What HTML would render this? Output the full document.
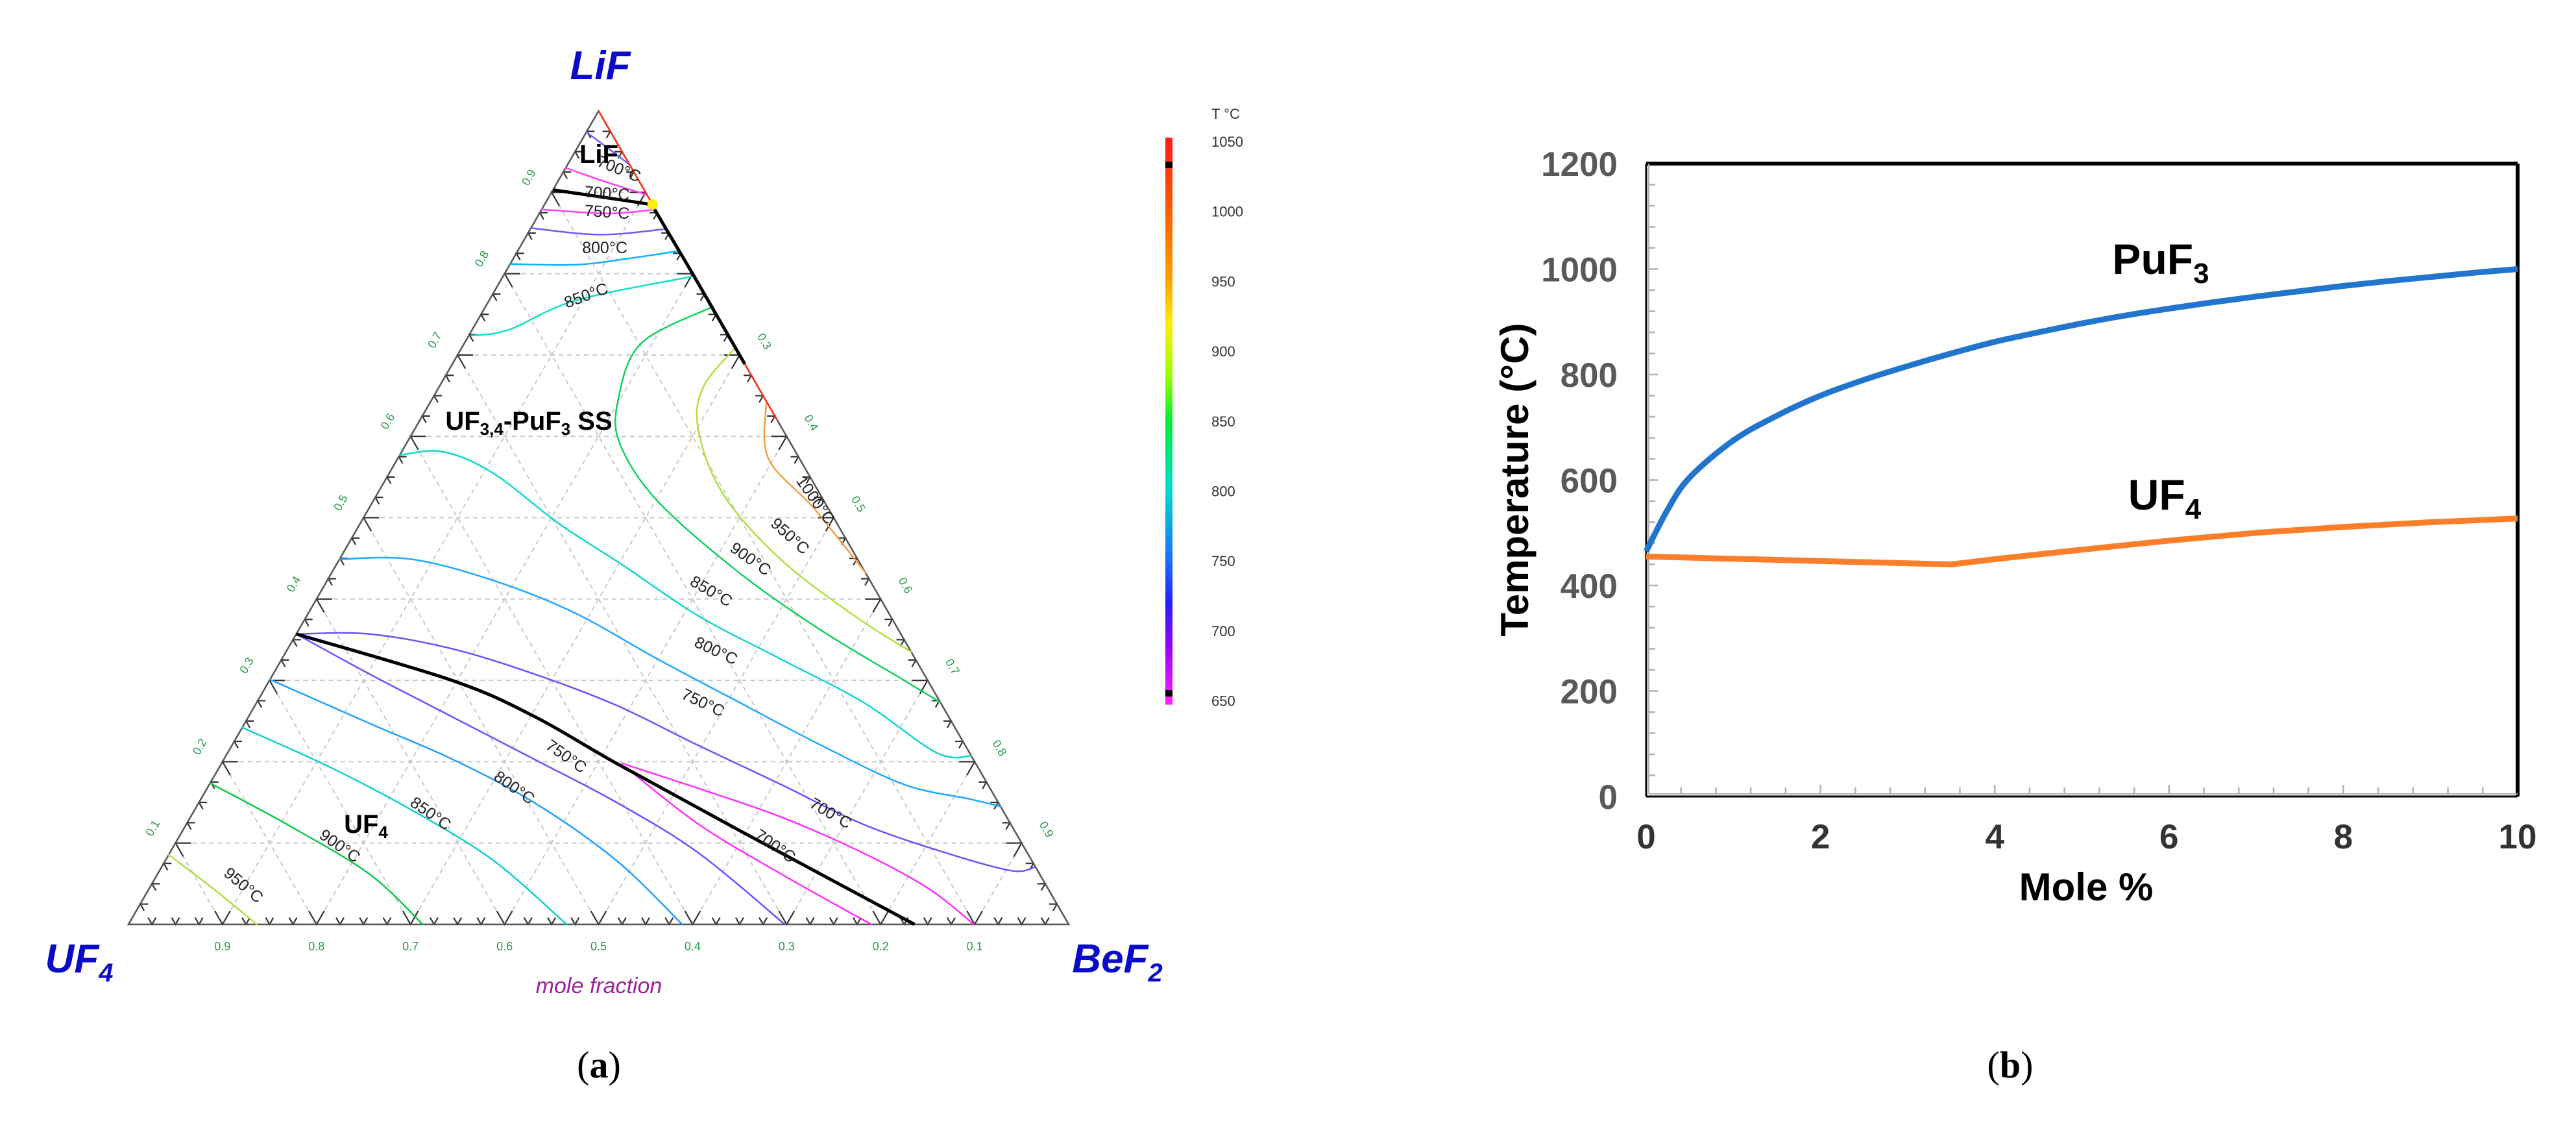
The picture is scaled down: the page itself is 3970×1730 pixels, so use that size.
<!DOCTYPE html>
<html><head><meta charset="utf-8"><style>
html,body{margin:0;padding:0;background:#fff;}
svg{display:block;}
text{font-family:"Liberation Sans",sans-serif;}
</style></head><body>
<svg id="fig" width="3970" height="1730" viewBox="0 0 3970 1730" xmlns="http://www.w3.org/2000/svg">
<defs>
<linearGradient id="cbar" x1="0" y1="0" x2="0" y2="1">
<stop offset="0" stop-color="#ff1a1a"/><stop offset="0.12" stop-color="#ff5a00"/><stop offset="0.25" stop-color="#ffa000"/>
<stop offset="0.33" stop-color="#ffee00"/><stop offset="0.42" stop-color="#99ff00"/><stop offset="0.5" stop-color="#00ee33"/>
<stop offset="0.62" stop-color="#00ddcc"/><stop offset="0.75" stop-color="#1a6aff"/><stop offset="0.82" stop-color="#2222ff"/>
<stop offset="0.9" stop-color="#9900ff"/><stop offset="1" stop-color="#ff22ff"/>
</linearGradient>
</defs>
<g id="ternary"></g>
<g id="xy"></g>
<text x="923" y="1660" font-size="58" text-anchor="middle" style="font-family:'Liberation Serif',serif">(<tspan font-weight="bold">a</tspan>)</text>
<text x="3098" y="1660" font-size="58" text-anchor="middle" style="font-family:'Liberation Serif',serif">(<tspan font-weight="bold">b</tspan>)</text>
</svg>
<script>
// ---------- Ternary data: points are [LiF fraction, BeF2 fraction] ----------
const boundaryUpper = [[0.903,0],[0.89,0.083],[0.885,0.114],[0.80,0.20],[0.689,0.311]];
const boundaryLower = [[0.357,0],[0.30,0.194],[0.256,0.303],[0.198,0.42],[0.115,0.593],[0,0.836]];
const redEdge1 = [[1,0],[0.885,0.115]];
const redEdge2 = [[0.689,0.311],[0.62,0.38]];
const contourTop1 = [[0.974,0],[0.95,0.04],[0.934,0.066]];
const contourTop2 = [[0.93,0],[0.912,0.054],[0.897,0.103]];
const contourTop3 = [[0.879,0],[0.874,0.073],[0.879,0.121]];
const contourTop4 = [[0.856,0],[0.848,0.077],[0.855,0.145]];
const contourTop5 = [[0.812,0],[0.811,0.07],[0.818,0.119],[0.828,0.172]];
const contourTop6 = [[0.724,0.004],[0.731,0.039],[0.767,0.092],[0.797,0.203]];
const contourGreen = [[0.759,0.241],[0.714,0.188],[0.643,0.199],[0.59,0.228],[0.52,0.303],[0.432,0.434],[0.361,0.557],[0.30,0.675],[0.273,0.727]];
const contourYellow = [[0.709,0.291],[0.661,0.281],[0.608,0.302],[0.529,0.368],[0.449,0.469],[0.379,0.583],[0.335,0.665]];
const contourOrange = [[0.643,0.357],[0.573,0.394],[0.511,0.474],[0.432,0.568]];
const contourMid800 = [[0.577,0],[0.581,0.044],[0.555,0.11],[0.493,0.211],[0.4405,0.307],[0.379,0.417],[0.326,0.531],[0.273,0.645],[0.211,0.754],[0.207,0.793]];
const contourMid750 = [[0.449,0],[0.449,0.076],[0.423,0.176],[0.383,0.283],[0.326,0.40],[0.273,0.513],[0.22,0.627],[0.172,0.739],[0.154,0.818],[0.145,0.855]];
const contourMid700 = [[0.357,0],[0.357,0.078],[0.339,0.174],[0.308,0.277],[0.269,0.385],[0.22,0.496],[0.172,0.608],[0.123,0.72],[0.088,0.825],[0.066,0.906],[0.0705,0.929]];
const contourMag1 = [[0.198,0.426],[0.167,0.523],[0.132,0.628],[0.088,0.737],[0.044,0.829],[0,0.899]];
const contourMag2 = [[0.194,0.431],[0.123,0.545],[0.062,0.663],[0,0.79]];
const contourLow750 = [[0.357,0],[0.308,0.102],[0.2555,0.216],[0.203,0.33],[0.15,0.444],[0.088,0.562],[0,0.698]];
const contourLow800 = [[0.301,0],[0.247,0.133],[0.203,0.243],[0.15,0.356],[0.079,0.479],[0,0.589]];
const contourLow850 = [[0.242,0],[0.194,0.116],[0.141,0.23],[0.079,0.348],[0,0.466]];
const contourLow900 = [[0.1736,0],[0.123,0.107],[0.062,0.225],[0,0.313]];
const contourLow950 = [[0.0855,0],[0.044,0.068],[0,0.1365]];
const bottomTickLabels = ["0.9","0.8","0.7","0.6","0.5","0.4","0.3","0.2","0.1"];
const leftTickLabels = ["0.1","0.2","0.3","0.4","0.5","0.6","0.7","0.8","0.9"];
const rightTickLabels = ["0.3","0.4","0.5","0.6","0.7","0.8","0.9"];
const colorbarTicks = [1050,1000,950,900,850,800,750,700,650];

// ---------- XY chart data ----------
const puf3X = [0,0.25,0.5,1,1.5,2,2.5,3,3.5,4,4.5,5,5.5,6,6.5,7,7.5,8,8.5,9,9.5,10];
const puf3T = [465,545,605,675,722,760,790,816,840,862,880,897,912,925,937,948,958,968,977,985,993,1000];
const uf4X = [0,3.5,4,5,6,7,8,9,10];
const uf4T = [455,440,450,468,485,500,511,520,527];
const xTicks = [0,2,4,6,8,10];
const yTicks = [0,200,400,600,800,1000,1200];

const NS = "http://www.w3.org/2000/svg";
function mk(tag, parent, attrs){ const e=document.createElementNS(NS,tag); for(const k in attrs) e.setAttribute(k,attrs[k]); parent.appendChild(e); return e; }

const TL=198, TR=1647, TB=1424, TTop=171, SIDE=TR-TL, H=TB-TTop;
function tx(l,b){ return TL + SIDE*(b + l/2); }
function ty(l,b){ return TB - H*l; }
function smoothPath(pts){
  if(pts.length<3){ return "M"+pts.map(p=>p[0].toFixed(1)+","+p[1].toFixed(1)).join(" L"); }
  let d="M"+pts[0][0].toFixed(1)+","+pts[0][1].toFixed(1);
  for(let i=0;i<pts.length-1;i++){
    const p0=pts[i-1]||pts[i], p1=pts[i], p2=pts[i+1], p3=pts[i+2]||p2;
    const c1=[p1[0]+(p2[0]-p0[0])/6, p1[1]+(p2[1]-p0[1])/6];
    const c2=[p2[0]-(p3[0]-p1[0])/6, p2[1]-(p3[1]-p1[1])/6];
    d+=` C${c1[0].toFixed(1)},${c1[1].toFixed(1)} ${c2[0].toFixed(1)},${c2[1].toFixed(1)} ${p2[0].toFixed(1)},${p2[1].toFixed(1)}`;
  }
  return d;
}
function linePath(pts){ return "M"+pts.map(p=>p[0].toFixed(1)+","+p[1].toFixed(1)).join(" L"); }
const tern=document.getElementById('ternary');

const grid=mk('g',tern,{stroke:"#c8c8c8","stroke-width":2,"stroke-dasharray":"7,6",fill:"none"});


for(let i=1;i<10;i++){
  const v=i/10;
  mk('line',grid,{x1:tx(v,0),y1:ty(v,0),x2:tx(v,1-v),y2:ty(v,1-v)});
  mk('line',grid,{x1:tx(0,v),y1:ty(0,v),x2:tx(1-v,v),y2:ty(1-v,v)});
  mk('line',grid,{x1:tx(0,1-v),y1:ty(0,1-v),x2:tx(1-v,0),y2:ty(1-v,0)});
}
const ticks=mk('g',tern,{stroke:"#333","stroke-width":2.2,fill:"none"});


function vtick(x,y,d1,d2,len){
  mk('path',ticks,{d:`M${x+d1[0]*len},${y+d1[1]*len} L${x},${y} L${x+d2[0]*len},${y+d2[1]*len}`});
}
for(let k=1;k<40;k++){
  const v=k/40, len=(k%4===0)?24:12;
  vtick(tx(0,v),ty(0,v),[0.5,-0.866],[-0.5,-0.866],len);
  vtick(tx(v,0),ty(v,0),[1,0],[0.5,0.866],len);
  vtick(tx(1-v,v),ty(1-v,v),[-1,0],[-0.5,0.866],len);
}
const tri=mk('path',tern,{d:`M${TL},${TB} L${TR},${TB} L${tx(1,0)},${TTop} Z`,fill:"none",stroke:"#555","stroke-width":2.5});



function contour(arr,color,w,name){
  const p=mk('path',tern,{d:smoothPath(arr.map(q=>[tx(q[0],q[1]),ty(q[0],q[1])])),fill:"none",stroke:color,"stroke-width":w,"stroke-linejoin":"round","stroke-linecap":"round"});
  
  
}
contour(contourTop1,"#7060ff",2.5,"isotherm-top-1");
contour(contourTop2,"#ff40ff",2.5,"isotherm-top-2");
contour(contourTop3,"#ff40ff",2.5,"isotherm-top-3");
contour(contourTop4,"#7058ff",2.5,"isotherm-top-4");
contour(contourTop5,"#10b0ff",2.5,"isotherm-top-5");
contour(contourTop6,"#10e0c8",2.5,"isotherm-top-6");
contour(contourGreen,"#10d060",2.5,"isotherm-900");
contour(contourYellow,"#b0e040",2.5,"isotherm-950");
contour(contourOrange,"#f0a040",2.5,"isotherm-1000");
contour(contourMid800,"#10d8d0",2.5,"isotherm-mid-800");
contour(contourMid750,"#20a8ff",2.5,"isotherm-mid-750");
contour(contourMid700,"#7050ff",2.5,"isotherm-mid-700");
contour(contourMag1,"#ff30ff",2.5,"isotherm-magenta-1");
contour(contourMag2,"#ff30ff",2.5,"isotherm-magenta-2");
contour(contourLow750,"#7050ff",2.5,"isotherm-low-750");
contour(contourLow800,"#20a0ff",2.5,"isotherm-low-800");
contour(contourLow850,"#10d0d0",2.5,"isotherm-low-850");
contour(contourLow900,"#10c850",2.5,"isotherm-low-900");
contour(contourLow950,"#b0e040",2.5,"isotherm-low-950");
contour(redEdge1,"#ff3010",2.5,"edge-isotherm-red-1");
contour(redEdge2,"#ff3010",2.5,"edge-isotherm-red-2");
const bu=mk('path',tern,{d:linePath(boundaryUpper.map(q=>[tx(q[0],q[1]),ty(q[0],q[1])])),fill:"none",stroke:"#000","stroke-width":5,"stroke-linejoin":"round"});


const bl=mk('path',tern,{d:smoothPath(boundaryLower.map(q=>[tx(q[0],q[1]),ty(q[0],q[1])])),fill:"none",stroke:"#000","stroke-width":5});


const dot=mk('circle',tern,{cx:tx(0.885,0.115),cy:ty(0.885,0.115),r:8,fill:"#ffee00"});



bottomTickLabels.forEach((s,i)=>{
  const b=(i+1)/10;
  const t=mk('text',tern,{x:tx(0,b),y:1464,"font-size":18,fill:"#2a9a4a","text-anchor":"middle"});
  t.textContent=s;
  
  
});
leftTickLabels.forEach((s,i)=>{
  const l=(i+1)/10, x=tx(l,0)-30, y=ty(l,0)-20;
  const t=mk('text',tern,{x:x,y:y,"font-size":18,fill:"#2a9a4a","text-anchor":"middle",transform:`rotate(-60 ${x} ${y})`});
  t.textContent=s;
  
  
});
rightTickLabels.forEach((s,i)=>{
  const b=(i+3)/10, x=tx(1-b,b)+33, y=ty(1-b,b)-18;
  const t=mk('text',tern,{x:x,y:y,"font-size":18,fill:"#2a9a4a","text-anchor":"middle",transform:`rotate(60 ${x} ${y})`});
  t.textContent=s;
  
  
});

const isoLabels=[["700°C",951,268,22],["700°C",935,306,4],["750°C",935,335,4],["800°C",932,390,0],["850°C",906,463,-20],
["1000°C",1250,775,55],["950°C",1212,832,42],["900°C",1152,868,35],["850°C",1092,918,30],["800°C",1100,1010,25],["750°C",1080,1090,25],
["750°C",868,1172,35],["800°C",788,1220,35],["850°C",659,1260,35],["900°C",519,1310,35],["950°C",370,1370,40],["700°C",1276,1260,30],["700°C",1190,1310,35]];
isoLabels.forEach(a=>{
  const t=mk('text',tern,{x:a[1],y:a[2],"font-size":25,fill:"#222","text-anchor":"middle",transform:`rotate(${a[3]} ${a[1]} ${a[2]})`});
  t.textContent=a[0];
  
  
});
function boldText(parent,x,y,size,html,name,anchor){
  const t=mk('text',parent,{x:x,y:y,"font-size":size,"font-weight":"bold",fill:"#000","text-anchor":anchor||"middle"});
  t.innerHTML=html;
  
  
  return t;
}
boldText(tern,923,251,40,"LiF","lif-phase-label");
boldText(tern,815,662,40,'UF<tspan font-size="26" dy="8">3,4</tspan><tspan dy="-8">-PuF</tspan><tspan font-size="26" dy="8">3</tspan><tspan dy="-8"> SS</tspan>',"solid-solution-label");
boldText(tern,564,1283,40,'UF<tspan font-size="26" dy="8">4</tspan>',"uf4-phase-label");

function corner(x,y,html,name){
  const t=mk('text',tern,{x:x,y:y,"font-size":62,"font-weight":"bold","font-style":"italic",fill:"#0a0ac8","text-anchor":"middle"});
  t.innerHTML=html;
  
  
}
corner(925,122,"LiF","corner-label-lif");
corner(122,1498,'UF<tspan font-size="40" dy="14">4</tspan>',"corner-label-uf4");
corner(1722,1498,'BeF<tspan font-size="40" dy="14">2</tspan>',"corner-label-bef2");
const mf=mk('text',tern,{x:923,y:1530,"font-size":34,"font-style":"italic",fill:"#a0209a","text-anchor":"middle"});
mf.textContent="mole fraction";



const CB0=218, CBstep=107.7/50;
function cby(T){ return CB0+(1050-T)*CBstep; }
const cb=mk('rect',tern,{x:1796,y:cby(1050)-6,width:11,height:cby(650)-cby(1050)+12,fill:"url(#cbar)"});


const m1=mk('rect',tern,{x:1796,y:249,width:11,height:10,fill:"#000"});


const m2=mk('rect',tern,{x:1796,y:1063,width:11,height:10,fill:"#000"});


colorbarTicks.forEach(T=>{
  const t=mk('text',tern,{x:1867,y:cby(T)+8,"font-size":22,fill:"#333"});
  t.textContent=String(T);
  
  
});
const ct=mk('text',tern,{x:1867,y:183,"font-size":22,fill:"#333"});
ct.textContent="T °C";



// ---------- XY chart ----------
const xy=document.getElementById('xy');
const PL=2537, PR=3880, PT=252, PB=1227;
function xs(v){ return PL+(PR-PL)*v/10; }
function ys(T){ return PB-(PB-PT)*T/1200; }
const minor=mk('g',xy,{stroke:"#b0b0b0","stroke-width":2.5});


for(let T=40;T<1200;T+=40){ const L=(T%200===0)?14:10; mk('line',minor,{x1:PL+4,y1:ys(T),x2:PL+4+L,y2:ys(T)}); }
for(let v=0.4;v<10;v+=0.4){ const L=(Math.abs(v/2-Math.round(v/2))<0.01)?14:10; mk('line',minor,{x1:xs(v),y1:PB-4,x2:xs(v),y2:PB-4-L}); }
const fr=mk('g',xy,{fill:"none"});


mk('line',fr,{x1:PL,y1:PT,x2:PR,y2:PT,stroke:"#000","stroke-width":6});
mk('line',fr,{x1:PR,y1:PT,x2:PR,y2:PB,stroke:"#000","stroke-width":6});
mk('line',fr,{x1:PL,y1:PT,x2:PL,y2:PB,stroke:"#000","stroke-width":3});
mk('line',fr,{x1:PL,y1:PB,x2:PR,y2:PB,stroke:"#000","stroke-width":3});
mk('line',fr,{x1:PL+4,y1:PT,x2:PL+4,y2:PB-4,stroke:"#b0b0b0","stroke-width":2});
mk('line',fr,{x1:PL+4,y1:PB-4,x2:PR,y2:PB-4,stroke:"#b0b0b0","stroke-width":2});
yTicks.forEach(T=>{
  const t=mk('text',xy,{x:2493,y:ys(T)+19,"font-size":53,"font-weight":"bold",fill:"#595959","text-anchor":"end"});
  t.textContent=String(T);
  
  
});
xTicks.forEach(v=>{
  const t=mk('text',xy,{x:xs(v),y:1307,"font-size":53,"font-weight":"bold",fill:"#333","text-anchor":"middle"});
  t.textContent=String(v);
  
  
});
const uf4Line=mk('path',xy,{d:linePath(uf4X.map((v,i)=>[xs(v),ys(uf4T[i])])),fill:"none",stroke:"#fb7f2a","stroke-width":9,"stroke-linejoin":"round"});


const puLine=mk('path',xy,{d:smoothPath(puf3X.map((v,i)=>[xs(v),ys(puf3T[i])])),fill:"none",stroke:"#2275cc","stroke-width":9,"stroke-linejoin":"round"});


boldText(xy,3330,422,66,'PuF<tspan font-size="44" dy="14">3</tspan>',"puf3-label");
boldText(xy,3336,785,66,'UF<tspan font-size="44" dy="14">4</tspan>',"uf4-label");
boldText(xy,3215,1387,60,'Mole %',"x-axis-title");
const yt=boldText(xy,0,0,60,'Temperature (°C)',"y-axis-title");
yt.setAttribute('transform','translate(2355,739) rotate(-90)');
</script>
</body></html>
